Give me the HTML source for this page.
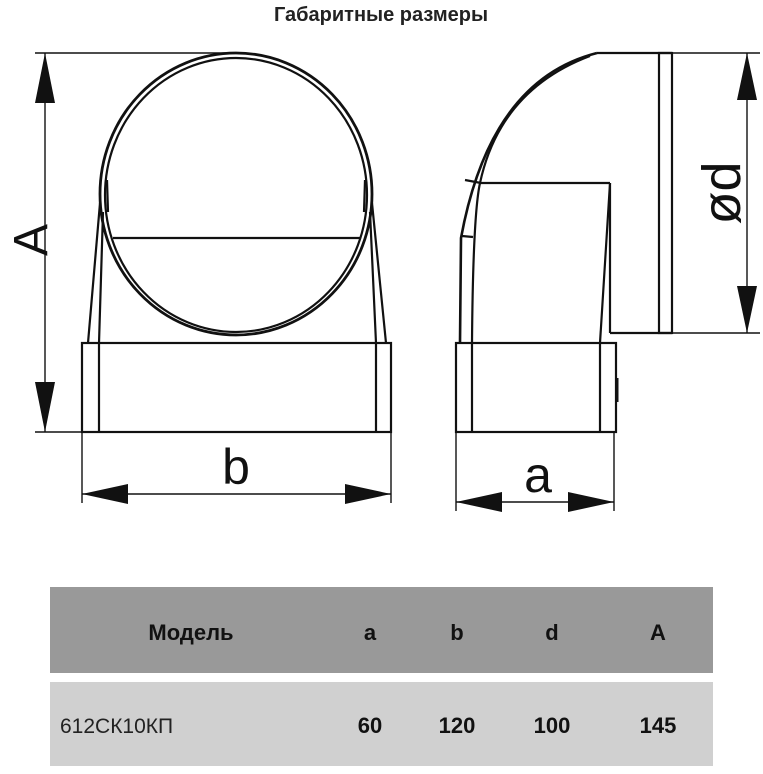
<!DOCTYPE html>
<html><head><meta charset="utf-8"><style>
body{margin:0;background:#fff;width:763px;height:769px;overflow:hidden;font-family:"Liberation Sans","DejaVu Sans",sans-serif}
</style></head><body>
<svg width="763" height="769" viewBox="0 0 763 769" xmlns="http://www.w3.org/2000/svg">
<text x="381" y="21" font-size="20" font-weight="bold" text-anchor="middle" font-family="Liberation Sans, DejaVu Sans, sans-serif" fill="#222">Габаритные размеры</text>
<g fill="none" stroke="#111" stroke-width="2.2">
<ellipse cx="236" cy="194" rx="136" ry="141" stroke-width="2.8"/>
<ellipse cx="236" cy="195" rx="131" ry="137"/>
<line x1="113" y1="238" x2="361" y2="238"/>
<path d="M88 343 L100 203 M99 343 L103 212 M386 343 L372 203 M376 343 L370 212"/>
<path d="M107 180 L108 212 M365 180 L364 212"/>
<rect x="82" y="343" width="309" height="89"/>
<line x1="99" y1="343" x2="99" y2="432"/>
<line x1="376" y1="343" x2="376" y2="432"/>
<g stroke-width="1.4">
<line x1="35" y1="53" x2="240" y2="53"/>
<line x1="35" y1="432" x2="82" y2="432"/>
<line x1="45" y1="53" x2="45" y2="432"/>
<line x1="82" y1="432" x2="82" y2="503"/>
<line x1="391" y1="432" x2="391" y2="503"/>
<line x1="82" y1="494" x2="391" y2="494"/>
</g>
<path d="M597 53 Q490 80 461 238 L460 343" stroke-width="2.6"/>
<path d="M590 56 Q500 90 480 183 Q473 215 472 343"/>
<line x1="465" y1="180" x2="481" y2="183"/>
<line x1="462" y1="236" x2="473" y2="237"/>
<line x1="597" y1="53" x2="672" y2="53"/>
<rect x="659" y="53" width="13" height="280"/>
<line x1="480" y1="183" x2="610" y2="183"/>
<line x1="610" y1="183" x2="610" y2="333"/>
<line x1="610" y1="183" x2="600" y2="343"/>
<line x1="610" y1="333" x2="672" y2="333"/>
<rect x="456" y="343" width="160" height="89"/>
<line x1="472" y1="343" x2="472" y2="432"/>
<line x1="600" y1="343" x2="600" y2="432"/>
<line x1="617" y1="378" x2="617" y2="402" stroke-width="3"/>
<g stroke-width="1.4">
<line x1="672" y1="53" x2="760" y2="53"/>
<line x1="672" y1="333" x2="760" y2="333"/>
<line x1="747" y1="53" x2="747" y2="333"/>
<line x1="456" y1="432" x2="456" y2="511"/>
<line x1="614" y1="432" x2="614" y2="511"/>
<line x1="456" y1="502" x2="614" y2="502"/>
</g>
</g>
<g fill="#111">
<polygon points="45,53 35,103 55,103"/>
<polygon points="45,432 35,382 55,382"/>
<polygon points="82,494 128,484 128,504"/>
<polygon points="391,494 345,484 345,504"/>
<polygon points="747,53 737,100 757,100"/>
<polygon points="747,333 737,286 757,286"/>
<polygon points="456,502 502,492 502,512"/>
<polygon points="614,502 568,492 568,512"/>
</g>
<g font-family="Liberation Sans, DejaVu Sans, sans-serif" fill="#111">
<text transform="translate(47,240) rotate(-90)" font-size="48" text-anchor="middle">A</text>
<text x="236" y="484" font-size="50" text-anchor="middle">b</text>
<text x="538" y="492" font-size="50" text-anchor="middle">a</text>
<text transform="translate(740,193) rotate(-90)" font-size="54" text-anchor="middle">ød</text>
</g>
<rect x="50" y="587" width="663" height="86" fill="#999"/>
<rect x="50" y="682" width="663" height="84" fill="#d0d0d0"/>
<g font-family="Liberation Sans, DejaVu Sans, sans-serif" fill="#111" font-size="22" text-anchor="middle" font-weight="bold">
<text x="191" y="640">Модель</text>
<text x="370" y="640">a</text>
<text x="457" y="640">b</text>
<text x="552" y="640">d</text>
<text x="658" y="640">A</text>
<text x="370" y="733">60</text>
<text x="457" y="733">120</text>
<text x="552" y="733">100</text>
<text x="658" y="733">145</text>
</g>
<text x="60" y="733" font-family="Liberation Sans, DejaVu Sans, sans-serif" font-size="21" fill="#222">612СК10КП</text>
</svg>
</body></html>
